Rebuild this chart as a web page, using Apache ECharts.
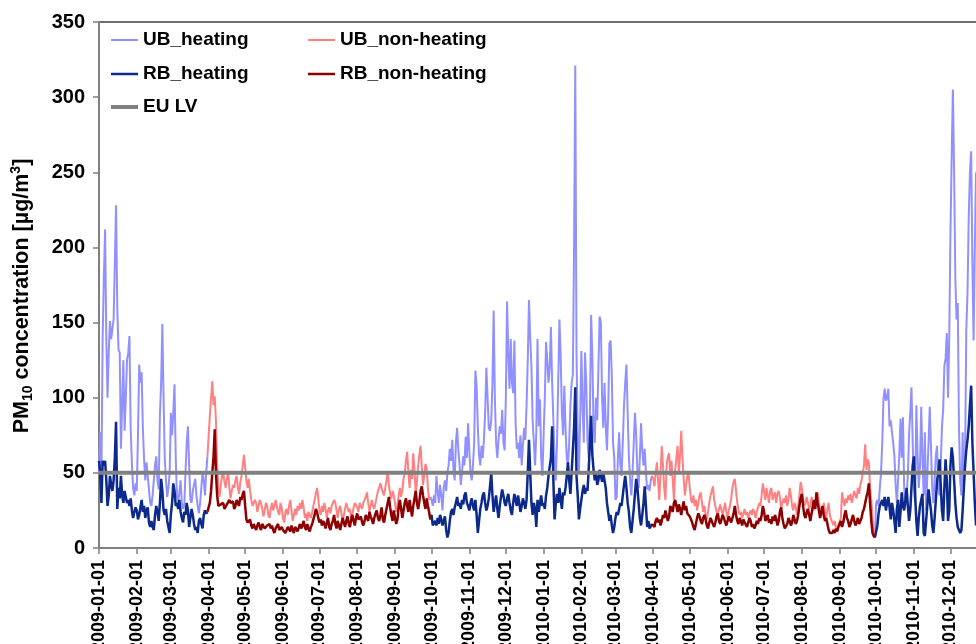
<!DOCTYPE html>
<html>
<head>
<meta charset="utf-8">
<script src="https://cdn.jsdelivr.net/npm/echarts@6/dist/echarts.min.js"></script>
<style>
html,body{margin:0;padding:0;background:#fff;}
#chart{width:976px;height:644px;}
</style>
</head>
<body>
<div id="chart"></div>
<script>
// ---- data (daily PM10, µg/m3) ----
const FIRST_DAY = '2009-01-01';
const LAST_DAY = '2010-12-31';
const EU_LV = 50;
const Y_TICKS = [0, 50, 100, 150, 200, 250, 300, 350];

// UB heating, 2009-01-01 .. 2009-03-31
const ubHeat2009 = [
  50,77,50,140,180,212,140,100,130,151,139,146,152,190,228,160,132,130,66,95,125,78,100,125,130,141,80,56,40,35,43,
  38,75,122,110,117,80,59,45,57,48,39,30,28,35,45,55,61,45,39,88,110,149,100,59,45,34,40,50,
  90,75,90,109,60,34,30,37,45,30,26,28,50,70,81,55,32,30,38,42,46,35,28,23,30,40,51,45,35,50,61
];
// RB heating, 2009-01-01 .. 2009-03-31
const rbHeat2009 = [
  58,50,30,58,55,58,45,28,35,48,42,38,45,60,84,26,40,33,48,35,30,38,34,30,32,28,33,25,20,24,27,
  25,19,22,27,32,24,28,20,25,27,17,14,18,14,12,22,28,24,18,30,46,38,25,22,26,18,14,10,
  22,30,43,38,28,30,26,32,24,20,17,24,22,30,25,14,20,26,22,16,12,14,10,18,20,16,13,22,25,23,24
];
// UB non-heating, 2009-04-01 .. 2009-09-30
const ubNon2009 = [
  61,88,100,111,95,101,85,55,40,34,42,48,50,44,40,46,51,40,33,38,42,40,45,48,40,36,44,48,55,62,
  63,45,40,46,38,32,28,27,32,30,24,28,32,30,26,21,25,30,28,22,20,26,30,25,28,32,32,24,22,30,27,
  20,17,24,26,22,28,32,25,18,22,26,22,28,25,30,26,32,27,20,23,18,24,22,20,24,28,32,36,40,33,
  25,22,28,24,30,26,20,25,27,23,28,30,32,30,25,20,26,28,23,18,22,26,30,29,24,26,20,22,27,30,29,
  27,24,30,31,26,30,32,34,37,30,24,28,32,28,26,30,34,38,40,43,40,37,35,40,45,51,42,36,33,38,35,
  30,24,28,35,40,34,38,46,50,58,64,50,40,52,46,63,52,36,44,55,62,68,54,42,48,56,53,40,32,34
];
// RB non-heating, 2009-04-01 .. 2009-09-30
const rbNon2009 = [
  23,30,38,50,60,79,50,35,28,27,29,28,30,26,27,29,28,32,30,29,31,26,28,32,30,28,34,32,36,38,
  28,19,17,16,19,15,13,16,14,12,15,17,14,12,16,15,13,12,15,14,16,13,15,12,10,13,14,16,12,11,14,
  12,13,10,12,14,13,11,15,12,10,14,13,11,12,16,13,15,18,14,12,16,13,11,14,16,19,22,26,24,20,
  17,19,15,18,16,13,17,20,14,12,16,18,22,16,13,18,15,12,16,20,17,14,18,21,16,14,19,22,18,15,20,
  23,19,18,21,17,15,18,22,20,18,24,21,19,16,20,23,25,20,18,22,27,19,17,22,26,30,34,27,22,18,25,
  20,16,19,27,32,26,20,25,30,33,28,24,32,26,21,28,33,38,30,26,31,38,41,35,30,26,33,28,24,19
];
// UB heating, 2009-10-01 .. 2010-03-31
const ubHeat0910 = [
  32,28,35,30,48,38,30,42,35,25,40,45,38,50,55,66,58,72,52,45,70,80,65,55,42,50,61,55,74,60,83,
  65,50,45,55,70,118,108,80,62,55,68,60,72,90,120,100,80,78,85,110,158,99,70,60,72,81,76,92,70,65,
  100,164,130,106,139,110,103,138,83,66,70,60,75,55,68,80,72,95,125,165,140,121,85,70,55,77,139,81,99,60,48,
  75,100,137,125,110,120,147,110,85,60,45,70,110,152,128,90,75,108,80,60,55,70,95,110,115,200,321,130,75,50,85,
  131,95,70,130,110,72,60,90,155,128,80,70,100,85,120,154,150,100,80,110,82,65,90,136,138,114,70,60,
  32,34,60,77,55,48,70,95,110,122,90,61,45,35,50,70,90,75,50,40,60,83,65,55,66,50,39,42,38,45,48
];
// RB heating, 2009-10-01 .. 2010-03-31
const rbHeat0910 = [
  22,15,14,18,15,20,16,22,19,15,18,21,12,7,10,18,24,26,22,27,30,34,28,30,26,32,29,35,37,30,28,
  25,30,33,28,25,32,22,10,18,26,30,35,37,30,25,28,33,41,50,35,24,30,35,26,20,28,34,39,35,30,
  28,33,36,30,25,22,30,36,32,28,35,30,24,28,33,30,26,32,50,72,50,30,22,30,26,14,32,24,30,35,28,
  30,26,35,40,48,54,60,81,45,19,30,36,30,40,32,26,37,35,40,48,57,45,36,50,65,80,107,48,35,19,26,
  32,38,42,36,40,38,52,70,88,62,52,45,50,42,45,52,48,44,50,45,40,30,24,18,22,15,10,14,
  20,24,22,26,30,28,35,42,48,40,30,24,14,10,18,26,36,46,40,30,20,15,22,30,41,28,14,18,13,12,16
];
// UB non-heating, 2010-04-01 .. 2010-09-30
const ubNon2010 = [
  46,41,50,57,45,32,50,68,55,40,32,55,61,63,48,58,45,32,52,60,68,50,62,78,60,46,35,42,48,50,
  40,32,30,35,28,32,25,30,35,37,30,24,28,22,19,24,30,35,38,41,32,28,24,22,26,29,25,22,26,30,24,
  20,25,28,33,40,44,46,38,30,25,22,24,20,23,26,22,24,20,23,25,22,26,24,20,24,27,30,28,35,43,
  38,32,40,35,30,38,40,32,35,37,30,36,38,34,26,30,33,30,35,28,32,40,35,28,25,30,27,22,28,35,44,
  40,32,28,30,34,30,26,28,34,30,25,28,32,37,30,26,22,26,30,24,20,26,30,22,19,17,15,18,14,12,15,
  14,20,37,32,28,33,30,35,32,36,30,34,38,35,33,40,36,42,45,50,55,69,52,59,57,40,32,20,12,8
];
// RB non-heating, 2010-04-01 .. 2010-09-30
const rbNon2010 = [
  16,14,18,20,17,19,15,18,22,20,25,24,18,21,28,26,24,30,32,28,24,29,26,22,27,31,25,28,23,22,
  21,19,17,14,12,16,20,23,21,18,16,20,22,19,15,13,17,20,18,16,14,17,21,23,18,16,19,22,20,17,15,
  18,21,19,17,20,23,28,22,18,16,20,18,15,19,17,16,14,17,20,18,14,16,13,15,18,16,20,18,22,28,
  24,18,20,22,17,19,16,21,18,22,19,15,18,24,27,20,16,13,12,16,20,18,15,17,22,19,16,18,22,28,33,
  36,28,22,20,24,26,22,18,23,28,32,26,37,30,25,20,24,28,22,18,20,16,12,10,11,10,12,10,13,11,14,
  16,18,14,17,22,25,20,18,14,16,19,22,18,15,17,20,16,18,20,24,26,30,34,37,43,30,18,10,8,7
];
// UB heating, 2010-10-01 .. 2010-12-22 (rest is outside the picture)
const ubHeat2010 = [
  30,32,28,40,50,70,99,106,98,100,106,81,85,77,70,61,42,30,45,62,86,60,87,40,28,35,48,75,90,107,70,
  40,30,95,62,40,55,94,60,35,77,25,48,70,94,95,40,30,45,62,68,40,35,55,80,92,121,126,143,100,140,
  210,260,305,250,180,152,163,80,45,35,77,41,60,145,170,220,250,264,190,138,200,250
];
// RB heating, 2010-10-01 .. 2010-12-22
const rbHeat2010 = [
  7,15,23,28,30,32,28,34,25,30,34,27,19,30,25,18,10,26,32,14,24,37,28,25,32,40,28,18,25,40,55,
  61,35,18,8,20,28,32,36,10,8,18,28,39,32,25,15,10,20,32,45,50,59,42,25,18,40,59,45,18,25,
  55,67,60,45,30,20,14,12,10,12,25,40,55,65,72,81,95,108,70,50,30,15
];

const SEGMENT_STARTS = ['2009-01-01', '2009-04-01', '2009-10-01', '2010-04-01', '2010-10-01'];

// ---- build categories ----
const dates = [];
(function () {
  const t0 = Date.parse(FIRST_DAY + 'T00:00:00Z');
  const t1 = Date.parse(LAST_DAY + 'T00:00:00Z');
  for (let t = t0; t <= t1; t += 86400000) dates.push(new Date(t).toISOString().slice(0, 10));
})();
const N = dates.length;
function emptySeries() { return new Array(N).fill(null); }
function place(target, start, vals) {
  const k = dates.indexOf(start);
  vals.forEach((v, j) => { if (k + j < N) target[k + j] = v; });
  return k;
}
// join a segment to the previous day of the other series so the line is continuous
function bridge(target, other, start) {
  const k = dates.indexOf(start);
  if (k > 0 && other[k - 1] != null) target[k - 1] = other[k - 1];
}

const ubH = emptySeries(), ubN = emptySeries(), rbH = emptySeries(), rbN = emptySeries();
place(ubH, SEGMENT_STARTS[0], ubHeat2009);
place(rbH, SEGMENT_STARTS[0], rbHeat2009);
place(ubN, SEGMENT_STARTS[1], ubNon2009);
place(rbN, SEGMENT_STARTS[1], rbNon2009);
place(ubH, SEGMENT_STARTS[2], ubHeat0910);
place(rbH, SEGMENT_STARTS[2], rbHeat0910);
place(ubN, SEGMENT_STARTS[3], ubNon2010);
place(rbN, SEGMENT_STARTS[3], rbNon2010);
place(ubH, SEGMENT_STARTS[4], ubHeat2010);
place(rbH, SEGMENT_STARTS[4], rbHeat2010);
bridge(ubN, ubH, SEGMENT_STARTS[1]); bridge(rbN, rbH, SEGMENT_STARTS[1]);
bridge(ubH, ubN, SEGMENT_STARTS[2]); bridge(rbH, rbN, SEGMENT_STARTS[2]);
bridge(ubN, ubH, SEGMENT_STARTS[3]); bridge(rbN, rbH, SEGMENT_STARTS[3]);
bridge(ubH, ubN, SEGMENT_STARTS[4]); bridge(rbH, rbN, SEGMENT_STARTS[4]);
const euLine = dates.map(() => EU_LV);

// ---- chart ----
const FONT = '"Liberation Sans", Arial, sans-serif';
const firstOfMonth = (i, v) => v.slice(8) === '01';
const chart = echarts.init(document.getElementById('chart'), null, { renderer: 'canvas' });

const COLORS = {
  ubH: '#9090ff', ubN: '#ff8080', rbH: '#0c2a8c', rbN: '#8e0000', eu: '#808080'
};

function legendAt(name, left, top, h) {
  return {
    data: [name], left: left, top: top, padding: 0, icon: 'rect', itemWidth: 27, itemHeight: h, itemGap: 0,
    textStyle: { fontFamily: FONT, fontWeight: 'bold', fontSize: 19, color: '#000', lineHeight: 20 }
  };
}

chart.setOption({
  animation: false,
  backgroundColor: '#fff',
  grid: {
    left: 99, top: 22, width: 888, bottom: 96, outerBoundsMode: 'none', containLabel: false,
    show: true, borderColor: '#404040', borderWidth: 1.5, backgroundColor: 'transparent'
  },
  legend: [
    legendAt('UB_heating', 111, 30, 2),
    legendAt('UB_non-heating', 308, 30, 2),
    legendAt('RB_heating', 111, 64, 2.5),
    legendAt('RB_non-heating', 308, 64, 2.5),
    legendAt('EU LV', 111, 97, 4)
  ],
  xAxis: {
    type: 'category', data: dates, boundaryGap: false,
    axisLine: { lineStyle: { color: '#808080', width: 2 } },
    axisTick: { interval: firstOfMonth, length: 6, lineStyle: { color: '#808080', width: 1.5 } },
    axisLabel: { interval: firstOfMonth, rotate: 90, margin: 12, fontFamily: FONT, fontWeight: 'bold', fontSize: 18, color: '#000' },
    splitLine: { show: false }
  },
  yAxis: {
    type: 'value', min: Y_TICKS[0], max: Y_TICKS[Y_TICKS.length - 1], interval: Y_TICKS[1] - Y_TICKS[0],
    axisLine: { show: true, lineStyle: { color: '#808080', width: 2 } },
    axisTick: { show: true, length: 6, lineStyle: { color: '#808080', width: 1.5 } },
    axisLabel: { margin: 14, fontFamily: FONT, fontWeight: 'bold', fontSize: 20, color: '#000' },
    splitLine: { show: false },
    name: '{b|PM}{sub|10}{b| concentration [µg/m}{sup|3}{b|]}',
    nameLocation: 'middle', nameRotate: 90, nameGap: 64,
    nameTextStyle: {
      padding: [0, 22, 0, 0],
      rich: {
        b: { fontFamily: FONT, fontWeight: 'bold', fontSize: 21.5, color: '#000', lineHeight: 26 },
        sub: { fontFamily: FONT, fontWeight: 'bold', fontSize: 14, color: '#000', lineHeight: 14, verticalAlign: 'bottom' },
        sup: { fontFamily: FONT, fontWeight: 'bold', fontSize: 14, color: '#000', lineHeight: 14, verticalAlign: 'top' }
      }
    }
  },
  series: [
    { name: 'UB_heating', type: 'line', data: ubH, symbol: 'none', connectNulls: false, color: COLORS.ubH, lineStyle: { width: 2, color: COLORS.ubH }, z: 2 },
    { name: 'UB_non-heating', type: 'line', data: ubN, symbol: 'none', connectNulls: false, color: COLORS.ubN, lineStyle: { width: 2, color: COLORS.ubN }, z: 2 },
    { name: 'RB_heating', type: 'line', data: rbH, symbol: 'none', connectNulls: false, color: COLORS.rbH, lineStyle: { width: 2.5, color: COLORS.rbH }, z: 3 },
    { name: 'RB_non-heating', type: 'line', data: rbN, symbol: 'none', connectNulls: false, color: COLORS.rbN, lineStyle: { width: 2.5, color: COLORS.rbN }, z: 3 },
    { name: 'EU LV', type: 'line', data: euLine, symbol: 'none', color: COLORS.eu, lineStyle: { width: 4, color: COLORS.eu }, z: 4 }
  ]
});
</script>
</body>
</html>
